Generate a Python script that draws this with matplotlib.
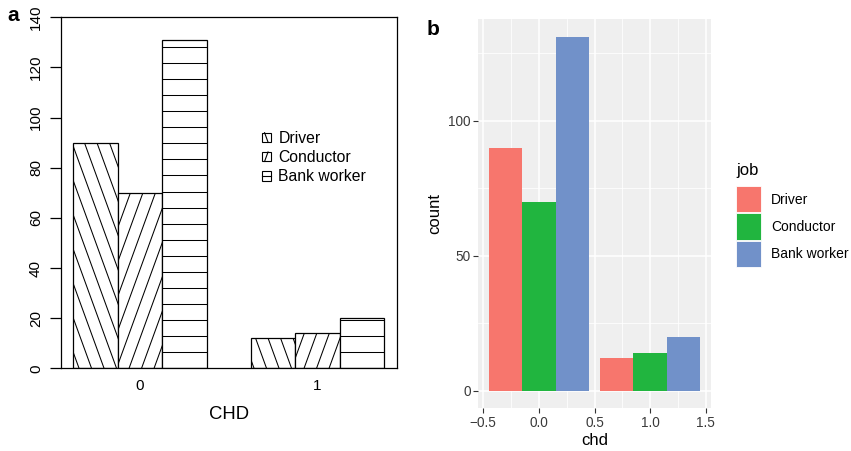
import matplotlib
matplotlib.use('Agg')
import matplotlib.pyplot as plt
import numpy as np
from matplotlib.patches import Patch, Rectangle
from matplotlib.lines import Line2D

plt.rcParams['font.family'] = ['Liberation Sans', 'DejaVu Sans']

# ---- data ----
jobs = ['Driver', 'Conductor', 'Bank worker']
chd_levels = [0, 1]
driver = [90, 12]
conductor = [70, 14]
bank_worker = [131, 20]
counts = [driver, conductor, bank_worker]
yticks_a = [0, 20, 40, 60, 80, 100, 120, 140]
yticks_b = [0, 50, 100]
xticks_b = [-0.5, 0.0, 0.5, 1.0, 1.5]
colors_b = ['#F7766D', '#21B53F', '#7191C9']
hatch_angles = [110, 70, 0]     # degrees, as in R barplot(angle=...)

W, H = 851, 451
fig = plt.figure(figsize=(W / 100, H / 100), dpi=100)


def ax_rect(l, t, r, b):
    return [l / W, 1 - b / H, (r - l) / W, (b - t) / H]


class HatchKeyHandler:
    """Legend key: small white square with one hatch line at the R angle."""
    def __init__(self, angle):
        self.angle = angle

    def legend_artist(self, legend, orig_handle, fontsize, handlebox):
        x0, y0 = -handlebox.xdescent, -handlebox.ydescent
        w, h = handlebox.width, handlebox.height
        tr = handlebox.get_transform()
        rect = Rectangle((x0, y0), w, h, facecolor='white', edgecolor='black',
                         lw=0.8, transform=tr)
        handlebox.add_artist(rect)
        if self.angle == 0:
            xs, ys = [x0, x0 + w], [y0 + h / 2, y0 + h / 2]
        elif self.angle > 90:
            xs, ys = [x0 + 0.3 * w, x0 + 0.7 * w], [y0 + h, y0]
        else:
            xs, ys = [x0 + 0.3 * w, x0 + 0.7 * w], [y0, y0 + h]
        handlebox.add_artist(Line2D(xs, ys, color='black', lw=0.8, transform=tr))
        return rect


# ================= panel a (base R style) =================
axa = fig.add_axes(ax_rect(61, 17.3, 396.5, 368.3))
axa.set_xlim(0.72, 8.28)
axa.set_ylim(0, 140)

bars_a = []
for j, vals in enumerate(counts):
    lefts = [1 + 4 * g + j for g in range(len(chd_levels))]
    bc = axa.bar(lefts, vals, width=1, align='edge', facecolor='white',
                 edgecolor='black', linewidth=0.9, zorder=2)
    bars_a.append(bc)

# hatching drawn as clipped lines at the R angles
p0 = axa.transData.transform((0, 0))
p1 = axa.transData.transform((1, 1))
sx, sy = p1[0] - p0[0], p1[1] - p0[1]
Hpx = 140 * sy
slant_sp = 12.5   # px, horizontal spacing of slanted lines
horiz_sp = 6.41   # data units between horizontal lines
for j, bc in enumerate(bars_a):
    ang = hatch_angles[j]
    for rect in bc.patches:
        x0 = rect.get_x()
        x1 = x0 + rect.get_width()
        h = rect.get_height()
        if ang == 0:
            for yv in np.arange(horiz_sp, h, horiz_sp):
                ln = Line2D([x0, x1], [yv, yv], color='black', lw=0.75, zorder=3)
                axa.add_line(ln)
                ln.set_clip_path(rect)
        else:
            t = np.tan(np.radians(ang))
            shift = Hpx / t
            c_lo = x0 * sx - abs(shift) - slant_sp
            c_hi = x1 * sx + abs(shift) + slant_sp
            start = np.floor(c_lo / slant_sp) * slant_sp
            for c in np.arange(start, c_hi, slant_sp):
                ln = Line2D([c / sx, (c + shift) / sx], [0, 140],
                            color='black', lw=0.75, zorder=3)
                axa.add_line(ln)
                ln.set_clip_path(rect)

axa.set_yticks(yticks_a)
axa.set_yticklabels([str(v) for v in yticks_a], rotation=90, va='center')
axa.tick_params(axis='y', length=8, width=0.9, pad=5, labelsize=11)
centers = [1 + 4 * g + 1.5 for g in range(len(chd_levels))]
axa.set_xticks(centers)
axa.set_xticklabels([str(c) for c in chd_levels])
axa.tick_params(axis='x', length=0, pad=8, labelsize=11)
for s in axa.spines.values():
    s.set_linewidth(0.9)
axa.set_xlabel('CHD', fontsize=13.3, labelpad=9)

leg_handles_a = [Patch(facecolor='white', edgecolor='black') for _ in jobs]
hmap = {hd: HatchKeyHandler(a) for hd, a in zip(leg_handles_a, hatch_angles)}
fig.legend(handles=leg_handles_a, labels=jobs, handler_map=hmap, loc='upper left',
           bbox_to_anchor=(262 / W, 1 - 131 / H), frameon=False, borderpad=0,
           borderaxespad=0, fontsize=11.3, handlelength=0.55, handleheight=0.55,
           handletextpad=0.5, labelspacing=0.27)

fig.text(7 / W, 1 - 21 / H, 'a', fontweight='bold', fontsize=15, va='baseline')

# ================= panel b (ggplot style) =================
axb = fig.add_axes(ax_rect(478.3, 19.3, 710.7, 408.3))
axb.set_facecolor('#EFEFEF')
axb.set_xlim(-0.545, 1.545)
axb.set_ylim(-6.55, 137.55)
bw = 0.9 / len(jobs)
for j, vals in enumerate(counts):
    xs = [c - 0.45 + bw * (j + 0.5) for c in chd_levels]
    axb.bar(xs, vals, width=bw, color=colors_b[j], linewidth=0, zorder=2,
            label=jobs[j])

axb.set_xticks(xticks_b)
axb.set_xticklabels(['\u22120.5', '0.0', '0.5', '1.0', '1.5'])
axb.set_yticks(yticks_b)
axb.set_xticks([-0.25, 0.25, 0.75, 1.25], minor=True)
axb.set_yticks([25, 75, 125], minor=True)
axb.grid(which='major', color='white', lw=1.1, zorder=0)
axb.grid(which='minor', color='white', lw=0.55, zorder=0)
axb.set_axisbelow(True)
axb.tick_params(which='major', length=3.5, width=0.8, color='#333333',
                labelsize=9.8, labelcolor='#3a3a3a', pad=2)
axb.tick_params(which='minor', length=0)
for s in axb.spines.values():
    s.set_visible(False)
axb.set_xlabel('chd', fontsize=12, labelpad=2)
axb.set_ylabel('count', fontsize=12, labelpad=4)

leg_handles_b = [Patch(facecolor=c, edgecolor='white', lw=0.6) for c in colors_b]
leg = fig.legend(handles=leg_handles_b, labels=jobs, title='job',
                 loc='upper left', bbox_to_anchor=(736 / W, 1 - 163 / H),
                 frameon=False, borderpad=0, borderaxespad=0, fontsize=10,
                 title_fontsize=12, handlelength=1.8, handleheight=2.52,
                 handletextpad=0.72, labelspacing=0.07, alignment='left')
leg._legend_box.sep = 6

fig.text(427 / W, 1 - 35 / H, 'b', fontweight='bold', fontsize=15, va='baseline')

fig.savefig('out.png', dpi=100)
